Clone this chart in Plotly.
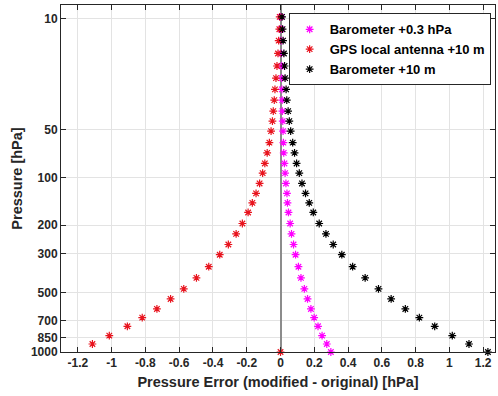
import numpy as np
import plotly.graph_objects as go

# ---- data ----
pressure_levels = [9.7, 11.6, 13.7, 16.5, 19.8, 23.6, 27.8, 32.5, 38.1, 44.1, 51.0,
                   60.2, 69.9, 81.5, 93.8, 109.0, 126.0, 144.5, 166.1, 194.9, 226.7,
                   263.9, 304.2, 357.8, 414.5, 477.1, 540.5, 610.4, 676.3, 748.7,
                   832.9, 915.4, 1000.0]

err_baro_03hpa = [0.003, 0.003, 0.004, 0.005, 0.006, 0.007, 0.008, 0.010, 0.011, 0.013,
                  0.015, 0.017, 0.019, 0.023, 0.027, 0.032, 0.038, 0.041, 0.047, 0.057,
                  0.065, 0.077, 0.089, 0.106, 0.121, 0.141, 0.160, 0.180, 0.199, 0.222,
                  0.246, 0.274, 0.298]

err_gps_10m = [-0.005, -0.007, -0.011, -0.015, -0.021, -0.027, -0.033, -0.037, -0.043,
               -0.048, -0.056, -0.066, -0.079, -0.093, -0.106, -0.124, -0.145, -0.167,
               -0.192, -0.226, -0.263, -0.309, -0.360, -0.425, -0.498, -0.573, -0.651,
               -0.732, -0.819, -0.907, -1.014, -1.114, 0.0]

err_baro_10m = [0.009, 0.012, 0.015, 0.020, 0.024, 0.027, 0.033, 0.037, 0.045, 0.052,
                0.060, 0.072, 0.083, 0.095, 0.111, 0.127, 0.148, 0.170, 0.194, 0.229,
                0.269, 0.312, 0.363, 0.427, 0.501, 0.580, 0.655, 0.739, 0.822, 0.913,
                1.017, 1.116, 1.228]

series_names = ["Barometer +0.3 hPa", "GPS local antenna +10 m", "Barometer +10 m"]
series_colors = ["#ff00ff", "#e8141e", "#000000"]

pressure_ticks = [10, 50, 100, 200, 300, 500, 700, 850, 1000]
x_ticks = [-1.2, -1.0, -0.8, -0.6, -0.4, -0.2, 0.0, 0.2, 0.4, 0.6, 0.8, 1.0, 1.2]
x_tick_labels = ["-1.2", "-1", "-0.8", "-0.6", "-0.4", "-0.2", "0", "0.2", "0.4",
                 "0.6", "0.8", "1", "1.2"]


# pressure axis drawn on a standard-atmosphere height scale
def height_km(p):
    p = np.asarray(p, dtype=float)
    trop = 44.331 * (1.0 - (p / 1013.25) ** 0.190263)
    strat = 11.0 + 6.3416 * np.log(226.32 / p)
    return np.where(p >= 226.32, trop, strat)


y_levels = height_km(pressure_levels)
y_ticks = height_km(pressure_ticks)

fig = go.Figure()
for vals, name, col in zip([err_baro_03hpa, err_gps_10m, err_baro_10m],
                           series_names, series_colors):
    fig.add_trace(go.Scatter(
        x=vals, y=y_levels, mode="markers", name=name,
        marker=dict(symbol="asterisk-open", size=6.5, color=col,
                    line=dict(color=col, width=1.2)),
        cliponaxis=False,
    ))

FONT = "Liberation Sans, Arial, sans-serif"
tick_font = dict(family=FONT, size=12, color="#262626", weight="bold")
axis_common = dict(
    showline=True, linecolor="#262626", linewidth=1, mirror="ticks",
    ticks="inside", ticklen=5, tickcolor="#262626", tickwidth=1,
    showgrid=True, gridcolor="#e3e3e3", gridwidth=1,
    tickfont=tick_font, automargin=False,
)

fig.update_layout(
    width=498, height=396,
    margin=dict(l=61, r=3, t=5, b=44, autoexpand=False),
    paper_bgcolor="white", plot_bgcolor="white",
    font=dict(family=FONT, color="#262626"),
    xaxis=dict(
        range=[-1.3, 1.27], tickvals=x_ticks, ticktext=x_tick_labels,
        zeroline=True, zerolinecolor="#8c8c8c", zerolinewidth=1.5,
        title=dict(text="Pressure Error (modified - original) [hPa]",
                   font=dict(family=FONT, size=14.5, weight="bold", color="#262626"),
                   standoff=7),
        **axis_common,
    ),
    yaxis=dict(
        range=[float(height_km(1000.0)), 32.07],
        tickvals=list(y_ticks), ticktext=[str(t) for t in pressure_ticks],
        zeroline=False,
        title=dict(text="Pressure [hPa]",
                   font=dict(family=FONT, size=14.5, weight="bold", color="#262626"),
                   standoff=4),
        **axis_common,
    ),
    legend=dict(
        x=0.99, y=0.976, xanchor="right", yanchor="top",
        bgcolor="white", bordercolor="#262626", borderwidth=1,
        font=dict(size=13, weight="bold", color="#000000", family=FONT),
        tracegroupgap=0,
    ),
    showlegend=True,
)

fig.write_html("out.html",
               config={"displayModeBar": False},
               post_script="document.body.style.margin='0';"
                           "document.body.style.overflow='hidden';")
